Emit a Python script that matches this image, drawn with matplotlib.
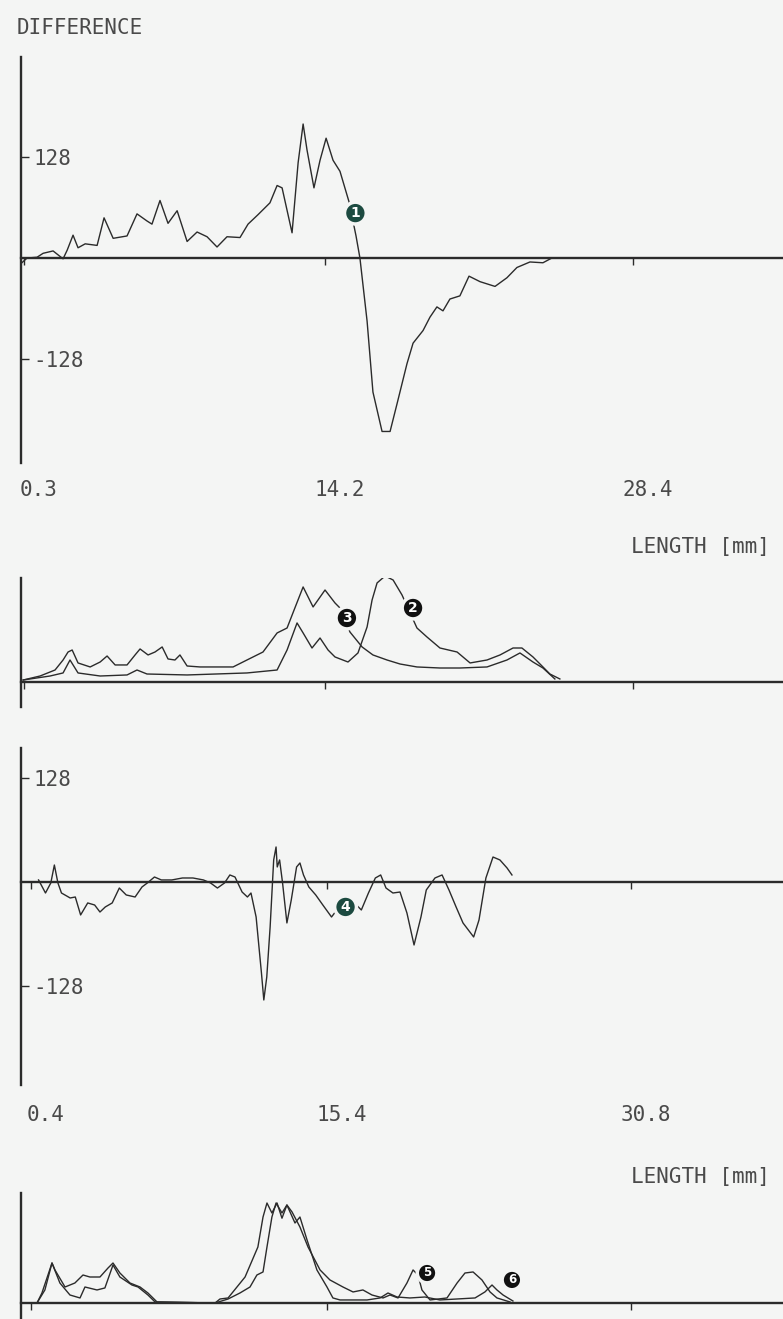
import matplotlib.pyplot as plt
from matplotlib.transforms import blended_transform_factory, ScaledTranslation

# ---- data: difference trace 1 (upper panel), x in mm ----
diff1_x = [0.22, 0.46, 0.92, 1.20, 1.66, 1.89, 2.12, 2.31, 2.58, 2.81, 3.14, 3.69,
           4.01, 4.43, 5.07, 5.53, 5.99, 6.22, 6.59, 6.96, 7.38, 7.84, 8.30, 8.76,
           9.22, 9.68, 10.28, 10.65, 11.11, 11.66, 11.99, 12.22, 12.68, 12.96, 13.19,
           13.37, 13.69, 13.97, 14.25, 14.57, 14.89, 15.31, 15.63, 15.81, 16.14, 16.41,
           16.83, 17.20, 17.52, 17.98, 18.26, 18.72, 19.04, 19.36, 19.64, 19.96, 20.42,
           20.84, 21.35, 22.04, 22.59, 23.05, 23.65, 24.25, 24.66]
diff1_y = [-6, 0, 1, 6, 9, 4, -1, 10, 29, 13, 18, 16,
           51, 25, 28, 56, 47, 43, 73, 44, 60, 21, 33, 27,
           14, 27, 26, 43, 55, 70, 92, 89, 32, 121, 170,
           137, 89, 124, 152, 124, 110, 71, 28, 0, -80, -170,
           -220, -220, -185, -134, -108, -92, -75, -62, -67, -52, -48,
           -23, -30, -36, -25, -12, -5, -6, 0]

# ---- data: intensity profiles 2 and 3 ----
prof3_x = [0.28, 1.06, 1.75, 2.12, 2.35, 2.54, 2.81, 3.37, 3.83, 4.15, 4.52, 5.07,
           5.44, 5.67, 6.04, 6.36, 6.69, 6.96, 7.28, 7.51, 7.84, 8.44, 9.96, 10.60,
           11.34, 11.99, 12.45, 12.72, 13.19, 13.65, 14.20, 14.66, 14.89, 15.35, 15.91,
           16.41, 17.06, 17.66, 18.44, 19.50, 20.42, 21.67, 22.59, 23.19, 23.79, 24.25,
           24.80]
prof3_y = [2.5, 7.5, 15, 27.5, 37.5, 40, 23.8, 18.8, 25, 32.5, 21.3, 21.3,
           33.8, 41.3, 33.8, 37.5, 43.8, 28.8, 27.5, 33.8, 20, 18.8, 18.8, 27.5,
           37.5, 61.3, 67.5, 86.3, 118.8, 93.8, 115, 98.8, 92.5, 62.5, 43.8,
           33.8, 27.5, 22.5, 18.8, 17.5, 17.5, 18.8, 27.5, 36.3, 25, 17.5,
           3.8]

prof2_x = [0.28, 1.52, 2.12, 2.44, 2.81, 3.83, 5.07, 5.53, 5.99, 7.84, 10.60, 11.99,
           12.45, 12.91, 13.19, 13.60, 13.97, 14.34, 14.66, 15.26, 15.72, 16.14, 16.37,
           16.60, 16.97, 17.34, 17.75, 18.44, 18.90, 19.50, 20.29, 20.89, 21.67, 22.27,
           22.87, 23.28, 23.79, 24.25, 24.57, 25.03]
prof2_y = [2.5, 7.5, 11.3, 27.5, 11.3, 7.5, 8.8, 15, 10, 8.8, 11.3, 15,
           40, 73.8, 61.3, 42.5, 55, 40, 31.3, 25, 36.3, 68.8, 102.5,
           123.8, 132.5, 127.5, 108.8, 67.5, 56.3, 42.5, 37.5, 23.8, 27.5, 33.8,
           42.5, 42.5, 31.3, 18.8, 10, 3.8]

# ---- data: difference trace 4 ----
diff4_x = [0.79, 1.14, 1.41, 1.59, 1.77, 1.95, 2.39, 2.65, 2.92, 3.28, 3.63, 3.90,
           4.17, 4.52, 4.88, 5.23, 5.68, 6.03, 6.30, 6.66, 7.01, 7.54, 8.08, 8.61,
           9.14, 9.50, 9.85, 10.21, 10.48, 10.74, 11.10, 11.37, 11.55, 11.81, 12.08,
           12.20, 12.35, 12.52, 12.70, 12.82, 12.88, 13.00, 13.15, 13.37, 13.59, 13.86,
           14.03, 14.21, 14.48, 14.83, 15.19, 15.63, 15.90, 16.34, 16.79, 17.14, 17.50,
           17.85, 18.12, 18.39, 18.74, 19.10, 19.45, 19.81, 20.16, 20.43, 20.87, 21.23,
           21.58, 21.94, 22.29, 22.83, 23.10, 23.45, 23.81, 24.16, 24.52, 24.77]
diff4_y = [2.5, -13.5, -1.2, 20.8, -1.2, -13.5, -19.6, -18.4, -40.4, -25.7, -28.2, -36.8,
           -30.6, -25.7, -7.4, -15.9, -18.4, -6.1, -1.2, 6.1, 2.5, 2.5, 4.9, 4.9,
           2.5, -1.2, -7.4, -1.2, 8.6, 6.1, -12.3, -18.4, -13.5, -42.9, -111.5,
           -144.6, -116.4, -55.1, 27, 42.9, 18.4, 27, -1.2, -50.2, -22.1, 18.4,
           23.3, 8.6, -6.1, -15.9, -28.2, -42.9, -34.3, -30.6, -25.7, -34.3, -13.5,
           4.9, 8.6, -7.4, -13.5, -12.3, -38, -77.2, -42.9, -9.8, 4.9, 8.6,
           -9.8, -30.6, -50.2, -67.4, -46.6, 4.9, 30.6, 27, 17.2, 8.6]

# ---- data: intensity profiles 5 and 6 ----
prof5_x = [0.71, 0.96, 1.47, 1.62, 2.13, 2.63, 3.04, 3.39, 3.90, 4.31, 4.56, 4.91,
           5.42, 5.93, 6.33, 6.79, 9.73, 9.98, 10.39, 11.25, 11.90, 12.16, 12.36,
           12.61, 12.87, 13.12, 13.37, 13.63, 14.03, 14.44, 15.05, 15.55, 16.21, 16.72,
           17.22, 17.68, 18.24, 18.59, 19.00, 19.45, 19.76, 20.01, 20.21, 20.62, 21.48,
           21.99, 22.39, 22.80, 23.25, 23.66, 24.01, 24.67]
prof5_y = [0, 12.5, 50, 41.3, 20, 25, 35, 32.5, 32.5, 43.8, 50, 37.5,
           25, 20, 12.5, 1.3, 0, 5, 6.3, 32.5, 70, 107.5, 125,
           112.5, 125, 106, 122.5, 113.8, 95, 70, 41.3, 28.8, 20, 13.8,
           16.3, 10, 6.3, 10, 6.3, 25, 41.3, 35, 16.3, 3.8, 6.3,
           25, 37.5, 38.8, 28.8, 13.8, 6.3, 1.3]

prof6_x = [0.71, 1.11, 1.47, 1.87, 2.38, 2.89, 3.14, 3.75, 4.15, 4.56, 4.91, 5.52,
           5.83, 6.33, 6.69, 9.73, 10.39, 10.99, 11.50, 11.85, 12.16, 12.36, 12.61,
           12.82, 13.12, 13.37, 13.78, 14.03, 14.39, 14.89, 15.40, 15.70, 16.06, 17.43,
           18.09, 18.49, 18.95, 19.60, 20.36, 21.12, 22.90, 23.40, 23.76, 24.01, 24.32,
           24.82]
prof6_y = [0, 16.3, 50, 25, 10, 6.3, 20, 16.3, 18.8, 47.5, 32.5, 22.5,
           20, 10, 1.3, 0, 5, 12.5, 20, 35, 38.8, 70, 107.5,
           125, 112.5, 122.5, 100, 107.5, 78.8, 41.3, 20, 6.3, 3.8, 3.8,
           6.3, 12.5, 7.5, 6.3, 7.5, 3.8, 6.3, 13.8, 22.5, 16.3, 10,
           2.5]

# axis labels and ticks
ticks_a = [0.3, 14.2, 28.4]
ticks_a_lbl = ['0.3', '14.2', '28.4']
ticks_b = [0.4, 15.4, 30.8]
ticks_b_lbl = ['0.4', '15.4', '30.8']
diff_ticks = [128, -128]
diff_tick_lbl = ['128', '-128']

W, H, DPI = 783, 1319, 100
PAPER = '#f4f5f4'
INK = '#2b2b2b'
TEXT = '#4a4a4a'
GREEN = '#1c4a40'

plt.rcParams['font.family'] = ['DejaVu Sans Mono', 'DejaVu Sans']
plt.rcParams['text.color'] = TEXT

fig = plt.figure(figsize=(W / DPI, H / DPI), dpi=DPI, facecolor=PAPER)


def frame(top, bottom, left=21, right=W):
    return [left / W, 1 - bottom / H, (right - left) / W, (bottom - top) / H]


def make_axes(rect, xlim, ylim, xticks):
    ax = fig.add_axes(rect)
    ax.set_facecolor('none')
    ax.set_xlim(*xlim)
    ax.set_ylim(*ylim)
    for s in ('top', 'right'):
        ax.spines[s].set_visible(False)
    ax.spines['left'].set_linewidth(1.7)
    ax.spines['left'].set_color(INK)
    ax.spines['bottom'].set_position(('data', 0))
    ax.spines['bottom'].set_linewidth(1.7)
    ax.spines['bottom'].set_color(INK)
    ax.set_xticks(xticks)
    ax.set_xticklabels([])
    ax.tick_params(axis='x', direction='out', length=5, width=1, color=INK)
    ax.set_yticks([])
    return ax


def diff_ticks_on(ax):
    ax.set_yticks(diff_ticks)
    ax.set_yticklabels(diff_tick_lbl, fontsize=15)
    ax.tick_params(axis='y', direction='in', length=6, width=1, color=INK,
                   labelcolor=TEXT, pad=-9)
    for lbl in ax.get_yticklabels():
        lbl.set_horizontalalignment('left')


def x_labels(ax, ticks, labels, y_px):
    tr = blended_transform_factory(ax.transData, fig.transFigure) + \
        ScaledTranslation(15 / DPI, 0, fig.dpi_scale_trans)
    for t, s in zip(ticks, labels):
        ax.text(t, 1 - y_px / H, s, transform=tr, ha='center', va='center', fontsize=15)


def badge(ax, x, y, n, color, size=10):
    ax.text(x, y, n, ha='center', va='center', color='white', fontsize=size,
            fontweight='bold', family='DejaVu Sans', zorder=6,
            bbox=dict(boxstyle='circle,pad=0.28', fc=color, ec=PAPER, lw=2.5))


line_kw = dict(color=INK, lw=1.0, zorder=4)

# panel 1: difference
ax1 = make_axes(frame(57, 463), (0.18, 35.32), (-260, 255), ticks_a)
ax1.plot(diff1_x, diff1_y, **line_kw)
diff_ticks_on(ax1)
badge(ax1, 15.6, 57, '1', GREEN)
x_labels(ax1, ticks_a, ticks_a_lbl, 490)

# panel 2: profiles
ax2 = make_axes(frame(578, 707), (0.18, 35.32), (-31.25, 130), ticks_a)
ax2.plot(prof2_x, prof2_y, **line_kw)
ax2.plot(prof3_x, prof3_y, **line_kw)
badge(ax2, 18.26, 92.5, '2', '#111111')
badge(ax2, 15.21, 80, '3', '#111111')

# panel 3: difference
ax3 = make_axes(frame(748, 1085), (-0.10, 38.5), (-248.8, 164.2), ticks_b)
ax3.plot(diff4_x, diff4_y, **line_kw)
diff_ticks_on(ax3)
badge(ax3, 16.34, -30.6, '4', GREEN)
x_labels(ax3, ticks_b, ticks_b_lbl, 1115)

# panel 4: profiles
ax4 = make_axes(frame(1193, 1319), (-0.10, 38.5), (-20, 137.5), ticks_b)
ax4.plot(prof5_x, prof5_y, **line_kw)
ax4.plot(prof6_x, prof6_y, **line_kw)
badge(ax4, 20.47, 37.5, '5', '#111111', size=8.5)
badge(ax4, 24.77, 28.8, '6', '#111111', size=8.5)

fig.text(17 / W, 1 - 28 / H, 'DIFFERENCE', ha='left', va='center', fontsize=15)
fig.text(770 / W, 1 - 547 / H, 'LENGTH [mm]', ha='right', va='center', fontsize=15)
fig.text(770 / W, 1 - 1177 / H, 'LENGTH [mm]', ha='right', va='center', fontsize=15)

fig.savefig('out.png', dpi=DPI, facecolor=PAPER)
